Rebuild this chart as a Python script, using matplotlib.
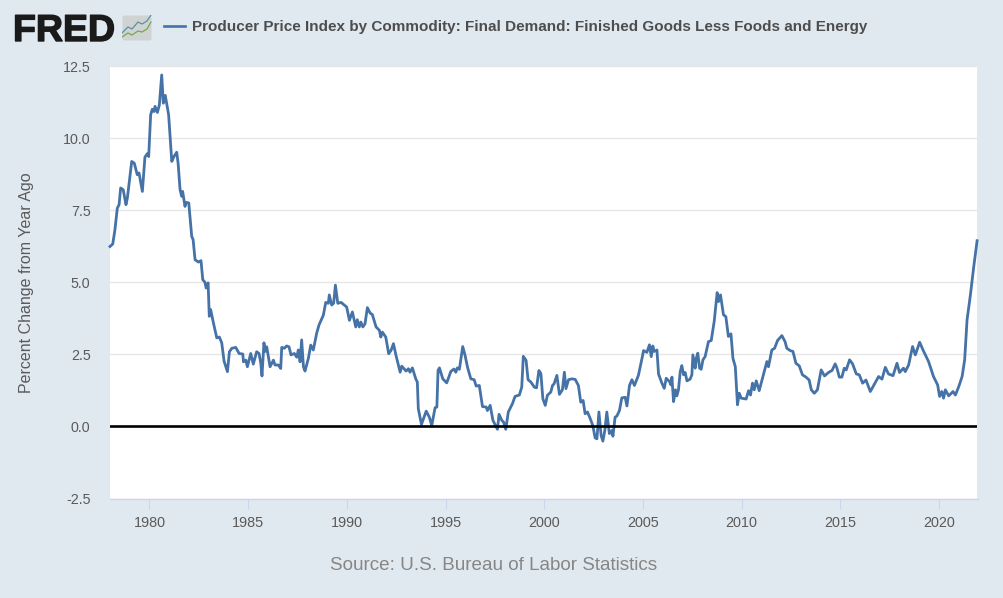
import matplotlib
matplotlib.use("Agg")
import matplotlib.pyplot as plt
import matplotlib.patheffects as pe
from matplotlib.patches import FancyBboxPatch

plt.rcParams['font.family'] = ['Liberation Sans', 'DejaVu Sans']

W, H = 1004, 598
BG = "#e1e9f0"
BLUE = "#4572a7"
TXT = "#5a5a5a"

years = [
    1978.00, 1978.14, 1978.25, 1978.37, 1978.46, 1978.54, 1978.67, 1978.81, 1978.88, 1979.10,
    1979.23, 1979.38, 1979.47, 1979.64, 1979.77, 1979.89, 1979.96, 1980.06, 1980.14, 1980.23,
    1980.28, 1980.40, 1980.50, 1980.62, 1980.70, 1980.80, 1980.87, 1980.97, 1981.13, 1981.24,
    1981.38, 1981.45, 1981.55, 1981.63, 1981.68, 1981.80, 1981.85, 1981.99, 1982.14, 1982.21,
    1982.31, 1982.48, 1982.61, 1982.70, 1982.81, 1982.87, 1982.97, 1983.03, 1983.10, 1983.24,
    1983.41, 1983.54, 1983.66, 1983.78, 1983.95, 1984.05, 1984.17, 1984.37, 1984.54, 1984.73,
    1984.76, 1984.88, 1984.96, 1985.13, 1985.26, 1985.43, 1985.55, 1985.64, 1985.70, 1985.80,
    1985.86, 1985.94, 1986.11, 1986.28, 1986.36, 1986.53, 1986.65, 1986.70, 1986.83, 1986.95,
    1987.07, 1987.17, 1987.34, 1987.46, 1987.54, 1987.63, 1987.71, 1987.80, 1987.88, 1988.05,
    1988.17, 1988.30, 1988.47, 1988.59, 1988.81, 1988.93, 1989.06, 1989.11, 1989.23, 1989.33,
    1989.42, 1989.54, 1989.71, 1989.87, 1989.99, 1990.13, 1990.28, 1990.45, 1990.53, 1990.63,
    1990.71, 1990.81, 1990.92, 1991.04, 1991.18, 1991.29, 1991.48, 1991.65, 1991.72, 1991.80,
    1991.97, 1992.12, 1992.24, 1992.36, 1992.49, 1992.70, 1992.78, 1993.00, 1993.12, 1993.20,
    1993.32, 1993.49, 1993.57, 1993.62, 1993.78, 1994.02, 1994.18, 1994.30, 1994.47, 1994.56,
    1994.62, 1994.69, 1994.86, 1995.06, 1995.27, 1995.43, 1995.52, 1995.60, 1995.70, 1995.87,
    1995.99, 1996.11, 1996.28, 1996.45, 1996.55, 1996.71, 1996.87, 1997.06, 1997.12, 1997.26,
    1997.40, 1997.63, 1997.71, 1997.85, 1997.94, 1998.05, 1998.18, 1998.39, 1998.52, 1998.74,
    1998.86, 1998.94, 1999.08, 1999.18, 1999.32, 1999.50, 1999.61, 1999.73, 1999.83, 1999.93,
    2000.05, 2000.16, 2000.33, 2000.42, 2000.50, 2000.64, 2000.77, 2000.92, 2001.02, 2001.10,
    2001.23, 2001.40, 2001.57, 2001.73, 2001.85, 2001.97, 2002.07, 2002.19, 2002.33, 2002.46,
    2002.58, 2002.67, 2002.77, 2002.88, 2002.97, 2003.07, 2003.17, 2003.30, 2003.43, 2003.48,
    2003.59, 2003.68, 2003.81, 2003.93, 2004.10, 2004.19, 2004.32, 2004.44, 2004.57, 2004.77,
    2004.95, 2005.03, 2005.20, 2005.33, 2005.42, 2005.50, 2005.57, 2005.71, 2005.79, 2005.96,
    2006.08, 2006.18, 2006.35, 2006.42, 2006.47, 2006.55, 2006.65, 2006.72, 2006.80, 2006.89,
    2006.97, 2007.06, 2007.14, 2007.23, 2007.39, 2007.48, 2007.53, 2007.65, 2007.70, 2007.78,
    2007.87, 2007.95, 2008.04, 2008.15, 2008.32, 2008.46, 2008.61, 2008.76, 2008.83, 2008.93,
    2009.08, 2009.20, 2009.33, 2009.46, 2009.56, 2009.68, 2009.79, 2009.88, 2009.98, 2010.23,
    2010.35, 2010.45, 2010.55, 2010.64, 2010.74, 2010.89, 2011.10, 2011.28, 2011.36, 2011.53,
    2011.67, 2011.82, 2012.04, 2012.20, 2012.29, 2012.46, 2012.60, 2012.75, 2012.92, 2013.08,
    2013.26, 2013.42, 2013.53, 2013.68, 2013.84, 2014.03, 2014.20, 2014.40, 2014.58, 2014.74,
    2014.83, 2014.95, 2015.08, 2015.20, 2015.30, 2015.47, 2015.62, 2015.81, 2015.96, 2016.13,
    2016.30, 2016.52, 2016.69, 2016.94, 2017.11, 2017.28, 2017.44, 2017.67, 2017.87, 2018.00,
    2018.20, 2018.29, 2018.46, 2018.66, 2018.80, 2019.02, 2019.19, 2019.47, 2019.72, 2019.93,
    2020.03, 2020.14, 2020.23, 2020.32, 2020.49, 2020.71, 2020.83, 2021.00, 2021.17, 2021.30,
    2021.42, 2021.59, 2021.76, 2021.93,
]
ppi_change = [
    6.24, 6.33, 6.82, 7.57, 7.69, 8.27, 8.21, 7.69, 7.92, 9.19,
    9.13, 8.73, 8.79, 8.15, 9.34, 9.46, 9.36, 10.81, 11.00, 10.92,
    11.10, 10.89, 11.15, 12.19, 11.21, 11.48, 11.21, 10.81, 9.19, 9.36,
    9.51, 9.13, 8.21, 7.98, 8.15, 7.63, 7.77, 7.75, 6.59, 6.48,
    5.78, 5.70, 5.75, 5.09, 5.00, 4.80, 4.98, 3.82, 4.05, 3.59,
    3.07, 3.10, 2.90, 2.26, 1.90, 2.59, 2.71, 2.74, 2.53, 2.51,
    2.24, 2.30, 2.07, 2.53, 2.16, 2.59, 2.53, 2.19, 1.75, 2.90,
    2.60, 2.76, 2.07, 2.30, 2.13, 2.13, 2.01, 2.74, 2.71, 2.79,
    2.76, 2.48, 2.53, 2.40, 2.65, 2.24, 3.00, 2.07, 1.92, 2.36,
    2.82, 2.65, 3.23, 3.52, 3.86, 4.30, 4.27, 4.56, 4.21, 4.27,
    4.90, 4.27, 4.30, 4.21, 4.14, 3.68, 3.97, 3.45, 3.70, 3.45,
    3.62, 3.45, 3.56, 4.12, 3.93, 3.88, 3.45, 3.33, 3.10, 3.27,
    3.10, 2.52, 2.64, 2.87, 2.46, 1.88, 2.09, 1.92, 2.00, 1.88,
    2.03, 1.65, 1.54, 0.61, 0.07, 0.53, 0.32, 0.03, 0.65, 0.67,
    1.94, 2.03, 1.65, 1.51, 1.91, 1.99, 1.88, 2.03, 1.98, 2.77,
    2.46, 2.06, 1.65, 1.62, 1.40, 1.42, 0.69, 0.67, 0.55, 0.73,
    0.21, -0.10, 0.42, 0.21, 0.15, -0.10, 0.50, 0.79, 1.04, 1.09,
    1.36, 2.43, 2.29, 1.62, 1.54, 1.36, 1.34, 1.94, 1.83, 0.96,
    0.73, 1.08, 1.19, 1.42, 1.48, 1.77, 1.11, 1.27, 1.88, 1.31,
    1.62, 1.65, 1.63, 1.42, 0.84, 0.90, 0.44, 0.50, 0.27, 0.03,
    -0.40, -0.43, 0.50, -0.31, -0.51, -0.14, 0.50, -0.25, -0.14, -0.34,
    0.32, 0.36, 0.55, 0.99, 1.01, 0.71, 1.42, 1.62, 1.42, 1.77,
    2.35, 2.63, 2.57, 2.83, 2.42, 2.79, 2.60, 2.65, 1.82, 1.50,
    1.32, 1.67, 1.55, 1.44, 1.71, 0.86, 1.27, 1.06, 1.27, 1.90,
    2.11, 1.79, 1.87, 1.58, 1.64, 1.79, 2.48, 2.02, 2.36, 2.54,
    2.02, 1.98, 2.31, 2.42, 2.94, 2.98, 3.64, 4.64, 4.33, 4.56,
    3.87, 3.81, 3.12, 3.21, 2.36, 2.07, 0.75, 1.15, 0.98, 0.95,
    1.24, 1.09, 1.50, 1.27, 1.58, 1.24, 1.79, 2.25, 2.07, 2.65,
    2.71, 2.98, 3.15, 2.94, 2.71, 2.63, 2.60, 2.19, 2.10, 1.79,
    1.71, 1.61, 1.27, 1.15, 1.27, 1.96, 1.75, 1.87, 1.94, 2.17,
    2.02, 1.71, 1.71, 2.02, 1.96, 2.31, 2.17, 1.82, 1.79, 1.50,
    1.61, 1.21, 1.42, 1.73, 1.64, 2.05, 1.82, 1.76, 2.19, 1.87,
    2.02, 1.90, 2.13, 2.77, 2.48, 2.92, 2.65, 2.25, 1.73, 1.44,
    1.04, 1.21, 0.98, 1.27, 1.06, 1.21, 1.09, 1.38, 1.73, 2.31,
    3.69, 4.56, 5.54, 6.44,
]

x_ticks = [1980, 1985, 1990, 1995, 2000, 2005, 2010, 2015, 2020]
y_ticks = [-2.5, 0.0, 2.5, 5.0, 7.5, 10.0, 12.5]

title = "Producer Price Index by Commodity: Final Demand: Finished Goods Less Foods and Energy"
y_label = "Percent Change from Year Ago"
source = "Source: U.S. Bureau of Labor Statistics"

fig = plt.figure(figsize=(W / 100, H / 100), dpi=100, facecolor=BG)
ax = fig.add_axes([110 / W, 1 - 498.5 / H, 867.5 / W, 432.5 / H], facecolor="white")

ax.plot(years, ppi_change, color=BLUE, lw=2.0, solid_joinstyle="round", zorder=3, clip_on=False)
ax.axhline(0, color="black", lw=1.9, zorder=4)

ax.set_xlim(1978.0, 2021.95)
ax.set_ylim(-2.5, 12.5)
ax.set_xticks(x_ticks)
ax.set_yticks(y_ticks)
ax.set_yticklabels([f"{v:.1f}" for v in y_ticks])
ax.grid(axis="y", color="#e6e6e6", lw=1.0, zorder=1)
ax.set_axisbelow(True)
for name in ["top", "left", "right"]:
    ax.spines[name].set_visible(False)
ax.spines["bottom"].set_color("#ccd6eb")
ax.spines["bottom"].set_linewidth(1.0)
ax.tick_params(axis="x", length=7, width=0.8, color="#ccd6eb", labelcolor=TXT, labelsize=10.4, pad=5.5)
ax.tick_params(axis="y", length=0, labelcolor=TXT, labelsize=10.3, pad=14)

fig.text(27 / W, 1 - 283 / H, y_label, rotation=90, ha="center", va="center", color=TXT, fontsize=11.5)
fig.text(493.5 / W, 1 - 565 / H, source, ha="center", va="center", color="#868686", fontsize=13.6)

# header: logo, icon, legend key, title
logo = fig.text(13 / W, 1 - 41 / H, "FRED", ha="left", va="baseline", color="#1a1a1a", fontsize=27,
                fontweight="bold")
logo.set_path_effects([pe.withStroke(linewidth=1.0, foreground="#1a1a1a")])
icon = fig.add_axes([122 / W, 1 - 41 / H, 30 / W, 26 / H])
icon.set_axis_off()
icon.set_xlim(0, 30)
icon.set_ylim(0, 26)
icon.add_patch(FancyBboxPatch((0.5, 0.5), 29, 25, boxstyle="round,pad=0,rounding_size=2",
                              fc="#cfd3d2", ec="none"))
icon.plot([0, 6, 10, 16, 20, 25, 29], [8, 14, 12, 19, 17, 20, 26], color="#5b8fa8", lw=0.9)
icon.plot([0, 6, 10, 16, 20, 25, 29], [4, 8, 6, 10, 9, 12, 19], color="#7aa64f", lw=0.9)
fig.add_artist(plt.Line2D([164 / W, 185 / W], [1 - 26 / H, 1 - 26 / H], color=BLUE, lw=1.9))
fig.text(192 / W, 1 - 26.5 / H, title, ha="left", va="center", color="#4d4d4d", fontsize=11.0,
         fontweight="bold")

fig.savefig("out.png", dpi=100, facecolor=fig.get_facecolor())
